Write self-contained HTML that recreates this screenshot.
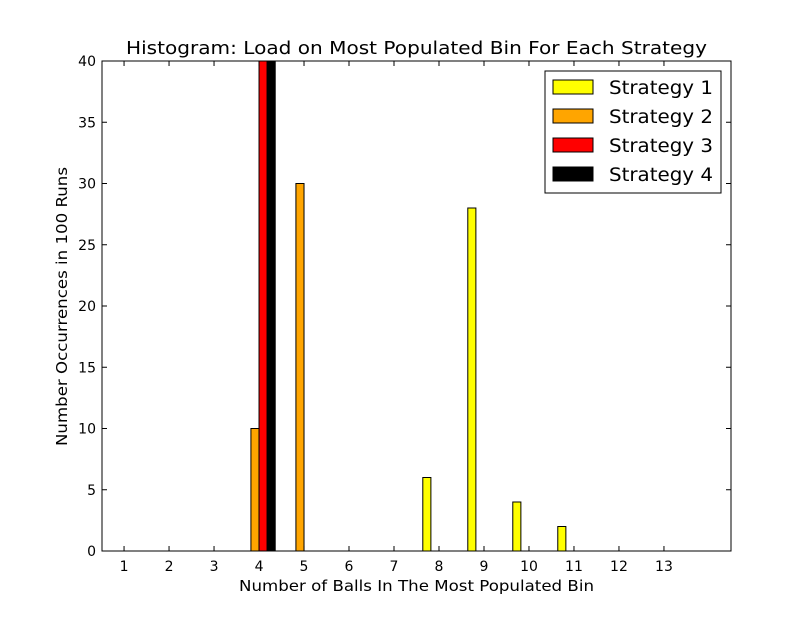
<!DOCTYPE html>
<html><head><meta charset="utf-8">
<style>
body{margin:0;background:#fff;}
svg text{font-family:"DejaVu Sans","Liberation Sans",sans-serif;fill:#000;}
</style></head>
<body>
<svg id="chart" width="812" height="612" viewBox="0 0 812 612">
<defs><clipPath id="clip"><rect x="102" y="61" width="629" height="490"/></clipPath></defs>
<rect x="0" y="0" width="812" height="612" fill="#fff"/>
<g id="bars" clip-path="url(#clip)"></g>
<g id="axes"></g>
</svg>
<script>
const categories = [1,2,3,4,5,6,7,8,9,10,11,12,13];
const strategy1 = [0,0,0,0,0,0,0,6,28,4,2,0,0];
const strategy2 = [0,0,0,10,30,0,0,0,0,0,0,0,0];
const strategy3 = [0,0,0,100,0,0,0,0,0,0,0,0,0];
const strategy4 = [0,0,0,100,0,0,0,0,0,0,0,0,0];
const seriesNames = ["Strategy 1","Strategy 2","Strategy 3","Strategy 4"];
const seriesColors = ["#ffff00","#ffa500","#ff0000","#000000"];
const yTicks = [0,5,10,15,20,25,30,35,40];
const xTicks = [1,2,3,4,5,6,7,8,9,10,11,12,13];

const L=102,R=731,T=61,B=551;
const xMin=0.51,xMax=14.49,yMin=0,yMax=40;
const xs=v=>L+(v-xMin)/(xMax-xMin)*(R-L);
const ys=v=>B-(v-yMin)/(yMax-yMin)*(B-T);
const NS="http://www.w3.org/2000/svg";
function mk(tag,attrs,parent){const e=document.createElementNS(NS,tag);for(const k in attrs)e.setAttribute(k,attrs[k]);parent.appendChild(e);return e;}
const bars=document.getElementById('bars'), axes=document.getElementById('axes');
const series=[strategy1,strategy2,strategy3,strategy4];
const bw=0.18, off=-0.36;
series.forEach((s,si)=>{
  s.forEach((v,i)=>{
    const x0=xs(categories[i]+off+si*bw), x1=xs(categories[i]+off+(si+1)*bw);
    const r=mk('rect',{x:x0,y:Math.min(ys(v),B),width:x1-x0,height:Math.abs(B-ys(v)),fill:seriesColors[si],stroke:'#000','stroke-width':1},bars);
    
    
  });
});
const f=mk('rect',{x:L,y:T,width:R-L,height:B-T,fill:'none',stroke:'#000','stroke-width':1},axes);


yTicks.forEach(v=>{
  const y=ys(v);
  mk('line',{x1:L,x2:L+5,y1:y,y2:y,stroke:'#000'},axes);
  mk('line',{x1:R,x2:R-5,y1:y,y2:y,stroke:'#000'},axes);
  const t=mk('text',{x:L-6,y:y+5,'text-anchor':'end','font-size':14},axes);t.textContent=v;
  
  
});
xTicks.forEach(v=>{
  const x=xs(v);
  mk('line',{x1:x,x2:x,y1:B,y2:B-5,stroke:'#000'},axes);
  mk('line',{x1:x,x2:x,y1:T,y2:T+5,stroke:'#000'},axes);
  const t=mk('text',{x:x,y:B+20,'text-anchor':'middle','font-size':14},axes);t.textContent=v;
  
  
});
let t=mk('text',{x:126,y:54,'font-size':18,textLength:581,lengthAdjust:'spacingAndGlyphs'},axes);t.textContent="Histogram: Load on Most Populated Bin For Each Strategy";


t=mk('text',{x:239,y:591,'font-size':15,textLength:355,lengthAdjust:'spacingAndGlyphs'},axes);t.textContent="Number of Balls In The Most Populated Bin";


t=mk('text',{x:0,y:0,'font-size':15,textLength:279,lengthAdjust:'spacingAndGlyphs',transform:'translate(67,446) rotate(-90)'},axes);t.textContent="Number Occurrences in 100 Runs";


const lg=mk('g',{},axes);


mk('rect',{x:545,y:71,width:176,height:122,fill:'#fff',stroke:'#000'},lg);
seriesNames.forEach((n,i)=>{
  const y=80+i*29;
  const p=mk('rect',{x:553,y:y,width:40,height:14,fill:seriesColors[i],stroke:'#000'},lg);
  
  
  const tx=mk('text',{x:609,y:y+14,'font-size':19,textLength:104,lengthAdjust:'spacingAndGlyphs'},lg);tx.textContent=n;
  
  
});
</script>
</body></html>
